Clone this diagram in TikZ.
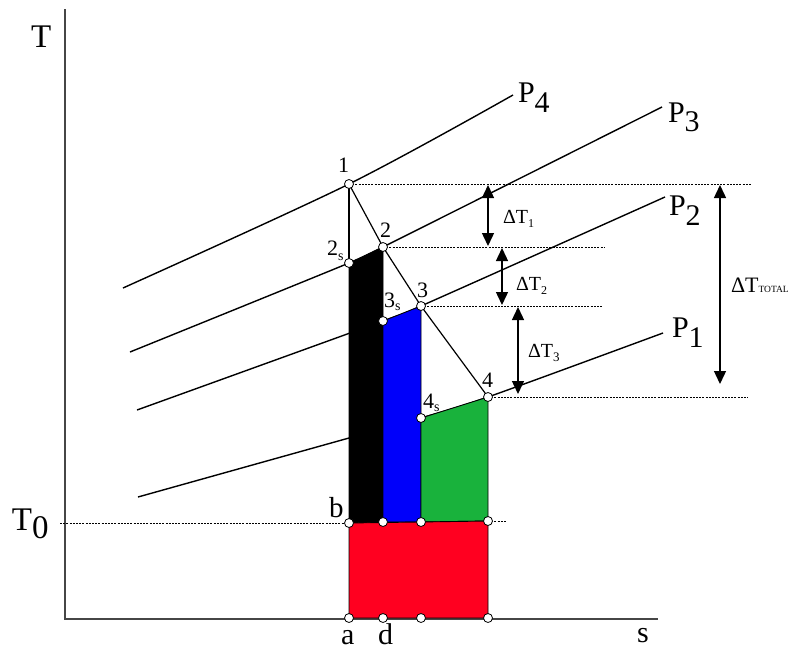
\documentclass[tikz,border=0pt]{standalone}
\usepackage{fontspec}
\setmainfont{Liberation Serif}
\usetikzlibrary{arrows.meta}
\definecolor{cred}{RGB}{255,0,32}
\definecolor{cblue}{RGB}{0,0,250}
\definecolor{cgreen}{RGB}{25,178,60}
\definecolor{caxis}{RGB}{70,70,70}
\begin{document}
\begin{tikzpicture}[x=1pt,y=-1pt,
  axisline/.style={draw=caxis,line width=1.2pt},
  isobar/.style={line width=1.4pt},
  dotline/.style={line width=0.8pt,dash pattern=on 2pt off 1.2pt},
  dimarrow/.style={line width=1.4pt,{Triangle[width=12pt,length=13pt]}-{Triangle[width=12pt,length=13pt]}},
  region/.style={draw=black,line width=0.9pt},
  procline/.style={line width=1.2pt},
  statept/.style={circle,draw=black,fill=white,line width=0.8pt,inner sep=0pt,minimum size=9pt},
  lab/.style={anchor=base west,inner sep=0pt,outer sep=0pt},
  numfont/.style={font=\fontsize{22}{22}\selectfont},
  bigfont/.style={font=\fontsize{30}{30}\selectfont},
  dtfont/.style={font=\fontsize{20}{20}\selectfont}
]
\useasboundingbox (0,0) rectangle (795,651);

% coordinates
\coordinate (o) at (65,619);
\coordinate (ytop) at (65,9);
\coordinate (xend) at (658,619);
\coordinate (p1) at (349,184);
\coordinate (p2) at (383,247);
\coordinate (p2s) at (349,263);
\coordinate (p3) at (421,306);
\coordinate (p3s) at (383,321);
\coordinate (p4) at (488,397);
\coordinate (p4s) at (421,418);
\coordinate (b) at (349,523);
\coordinate (c1) at (383,522);
\coordinate (c2) at (421,522);
\coordinate (c3) at (488,521);
\coordinate (a) at (349,618);
\coordinate (d) at (383,618);
\coordinate (e) at (421,618);
\coordinate (f) at (488,618);
\coordinate (t0start) at (60,523);
\coordinate (c3end) at (507,521);
\coordinate (h1) at (752,184);
\coordinate (h2) at (604,247);
\coordinate (h3) at (602,306);
\coordinate (h4) at (748,397);

% axes
\draw[axisline] (ytop) -- (o) -- (xend);

% isobars
\draw[isobar] plot[smooth] coordinates {(123,288) (349,184) (513,95)};
\draw[isobar] plot[smooth] coordinates {(130,352) (349,263) (383,247) (662,107)};
\draw[isobar] plot[smooth] coordinates {(137,410) (383,321) (421,306) (665,197)};
\draw[isobar] plot[smooth] coordinates {(138,497) (349,438) (421,418) (488,397) (663,333)};

% dotted reference lines
\draw[dotline] (p1) -- (h1);
\draw[dotline] (p2) -- (h2);
\draw[dotline] (p3) -- (h3);
\draw[dotline] (p4) -- (h4);
\draw[dotline] (t0start) -- (b);
\draw[dotline] (c3) -- (c3end);

% regions
\fill[black,region] (p2s) -- (p2) -- (c1) -- (b) -- cycle;
\fill[cblue,region] (p3s) -- (p3) -- (c2) -- (c1) -- cycle;
\fill[cgreen,region] (p4s) -- (p4) -- (c3) -- (c2) -- cycle;
\fill[cred,region] (b) -- (c3) -- (f) -- (a) -- cycle;

% process lines
\draw[procline] (p1) -- (p2s);
\draw[procline] (p1) -- (p2) -- (p3) -- (p4);

% dimension arrows
\coordinate (d1a) at (488,185); \coordinate (d1b) at (488,246);
\coordinate (d2a) at (502,248); \coordinate (d2b) at (502,305);
\coordinate (d3a) at (518,307); \coordinate (d3b) at (518,394);
\coordinate (dta) at (720,185); \coordinate (dtb) at (720,384);
\draw[dimarrow] (d1a) -- (d1b);
\draw[dimarrow] (d2a) -- (d2b);
\draw[dimarrow] (d3a) -- (d3b);
\draw[dimarrow] (dta) -- (dtb);

% state points
\foreach \q in {p1,p2,p2s,p3,p3s,p4,p4s,b,c1,c2,c3,a,d,e,f}
  \node[statept] (m\q) at (\q) {};

% labels
\node[lab,font=\fontsize{33}{33}\selectfont] (lT) at (31,47) {T};
\node[lab,font=\fontsize{33}{33}\selectfont] (lT0) at (12,530) {T\raisebox{-8pt}{0}};
\node[lab,font=\fontsize{30}{30}\selectfont] (ls) at (637,642) {s};
\node[lab,font=\fontsize{29}{29}\selectfont] (lb) at (329,517) {b};
\node[lab,font=\fontsize{30}{30}\selectfont] (la) at (341,644) {a};
\node[lab,font=\fontsize{30}{30}\selectfont] (ld) at (378,644) {d};

\node[lab,bigfont] (lP4) at (518,102) {P\raisebox{-10pt}{4}};
\node[lab,bigfont] (lP3) at (668,122) {P\raisebox{-9pt}{3}};
\node[lab,bigfont] (lP2) at (669,215) {P\raisebox{-10pt}{2}};
\node[lab,bigfont] (lP1) at (672,337) {P\raisebox{-10pt}{1}};

\node[lab,numfont] (l1) at (338,172) {1};
\node[lab,numfont] (l2) at (380,237) {2};
\node[lab,numfont] (l2s) at (327,255) {2\raisebox{-5pt}{\fontsize{14}{14}\selectfont s}};
\node[lab,numfont] (l3) at (417,297) {3};
\node[lab,numfont] (l3s) at (384,307) {3\raisebox{-3pt}{\fontsize{14}{14}\selectfont s}};
\node[lab,numfont] (l4) at (482,387) {4};
\node[lab,numfont] (l4s) at (423,408) {4\raisebox{-3pt}{\fontsize{14}{14}\selectfont s}};

\node[lab,dtfont] (lD1) at (503,223) {ΔT\raisebox{-4pt}{\fontsize{12}{12}\selectfont 1}};
\node[lab,dtfont] (lD2) at (516,290) {ΔT\raisebox{-4pt}{\fontsize{12}{12}\selectfont 2}};
\node[lab,dtfont] (lD3) at (528,357) {ΔT\raisebox{-4pt}{\fontsize{13}{13}\selectfont 3}};
\node[lab,font=\fontsize{22}{22}\selectfont] (lDT) at (731,292) {ΔT{\fontsize{9.5}{9.5}\selectfont TOTAL}};
\end{tikzpicture}
\end{document}
